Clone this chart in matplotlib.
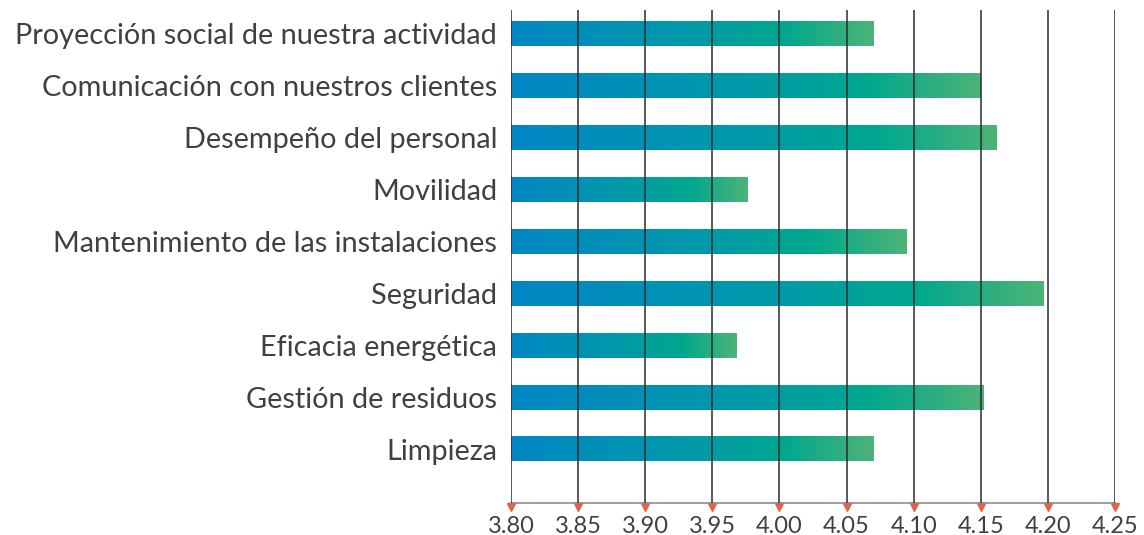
import numpy as np
import matplotlib.pyplot as plt
import matplotlib.transforms as mtransforms
from matplotlib.colors import LinearSegmentedColormap

plt.rcParams['font.family'] = ['Lato', 'DejaVu Sans']

# datos
categorias = ['Proyección social de nuestra actividad',
              'Comunicación con nuestros clientes',
              'Desempeño del personal',
              'Movilidad',
              'Mantenimiento de las instalaciones',
              'Seguridad',
              'Eficacia energética',
              'Gestión de residuos',
              'Limpieza']
valores = [4.07, 4.15, 4.162, 3.976, 4.095, 4.197, 3.968, 4.152, 4.07]
ticks_x = [3.80, 3.85, 3.90, 3.95, 4.00, 4.05, 4.10, 4.15, 4.20, 4.25]

base = 3.80
alto = 0.48

degradado = LinearSegmentedColormap.from_list(
    'barra', [(0.0, '#0087c4'), (0.5, '#009aa9'), (0.76, '#00a88e'), (1.0, '#4db377')])
grad = np.linspace(0, 1, 256).reshape(1, -1)

fig = plt.figure(figsize=(11.44, 5.35), dpi=100)
ax = fig.add_axes([0.4467, 0.0598, 0.5280, 0.9215])

ypos = np.arange(len(categorias))
for y, v in zip(ypos, valores):
    ax.imshow(grad, cmap=degradado, aspect='auto', interpolation='bicubic',
              extent=[base, v, y + alto / 2, y - alto / 2], zorder=1)

ax.set_xlim(3.80, 4.25)
ax.set_ylim(9.04, -0.46)
ax.set_yticks(ypos)
ax.set_yticklabels(categorias, fontsize=20.8, color='#404040')
ax.set_xticks(ticks_x)
ax.set_xticklabels(['%.2f' % t for t in ticks_x], fontsize=17, color='#404040')
ax.tick_params(axis='y', length=0, pad=10)
ax.tick_params(axis='x', length=0, pad=9)

ax.grid(axis='x', color='#2b2b2b', linewidth=1.1)
ax.set_axisbelow(False)
for s in ['top', 'right', 'left']:
    ax.spines[s].set_visible(False)
ax.spines['bottom'].set_color('#8c8c8c')
ax.spines['bottom'].set_linewidth(1.2)

# marcas rojas del eje, justo debajo de la linea
desplaza = mtransforms.ScaledTranslation(0, -3 / 72, fig.dpi_scale_trans)
ax.plot(ticks_x, [0] * len(ticks_x), transform=ax.get_xaxis_transform() + desplaza,
        marker='v', ls='none', color='#e8603f', markersize=5.5, clip_on=False, zorder=1)

fig.savefig('out.png', dpi=100)
